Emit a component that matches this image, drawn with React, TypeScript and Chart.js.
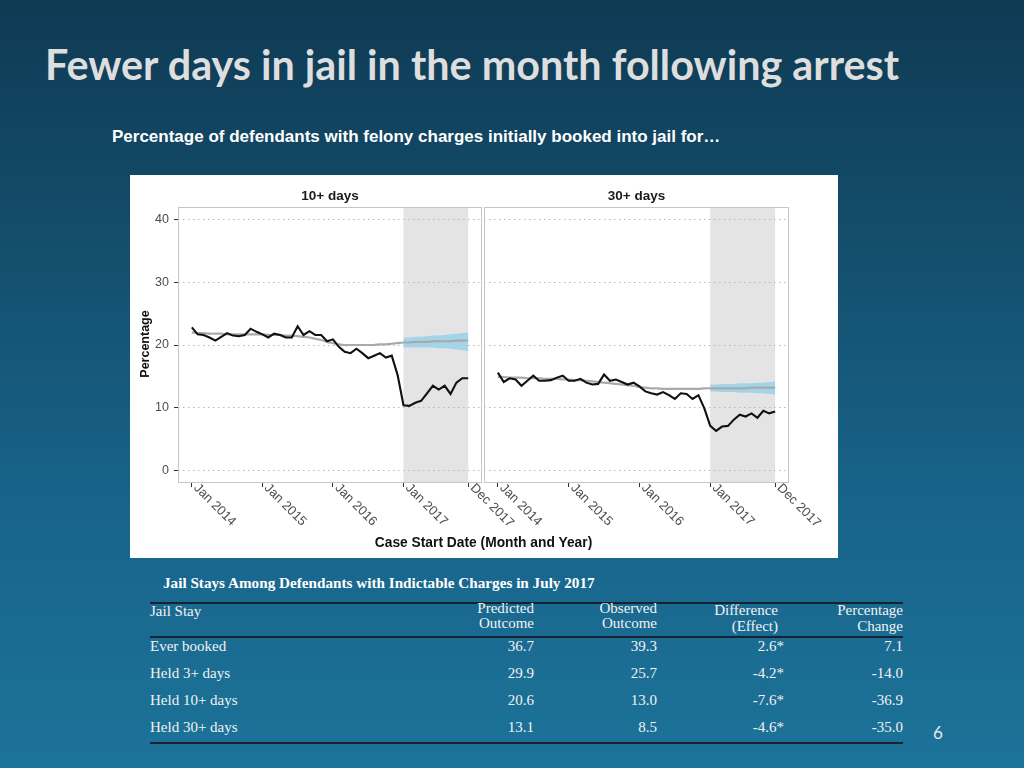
import React, { useEffect, useRef } from 'react';
import { Chart, registerables } from 'chart.js';

Chart.register(...registerables);

// ---------- data ----------
// month index 0 = Jan 2014 ... 47 = Dec 2017
const monthCount = 48;
const xTickValues = [0, 12, 24, 36, 47];
const xTickLabels = ['Jan 2014', 'Jan 2015', 'Jan 2016', 'Jan 2017', 'Dec 2017'];
const yTickValues = [0, 10, 20, 30, 40];
const shadeStart = 36;
const shadeEnd = 47;
const ribbonStart = 36;

const observed10 = [
  22.8, 21.7, 21.6, 21.2, 20.7, 21.3, 21.9, 21.5, 21.4, 21.6, 22.6, 22.1,
  21.7, 21.2, 21.8, 21.6, 21.2, 21.2, 23.0, 21.6, 22.2, 21.6, 21.6, 20.6,
  20.9, 19.7, 18.9, 18.7, 19.4, 18.7, 17.9, 18.3, 18.7, 18.0, 18.3, 15.2,
  10.4, 10.3, 10.8, 11.1, 12.3, 13.5, 12.9, 13.5, 12.2, 14.0, 14.7, 14.7,
];
const trend10 = [
  22.0, 21.9, 21.9, 21.8, 21.8, 21.8, 21.7, 21.7, 21.7, 21.7, 21.7, 21.7,
  21.7, 21.6, 21.6, 21.6, 21.5, 21.5, 21.4, 21.3, 21.2, 21.0, 20.8, 20.5,
  20.3, 20.1, 20.0, 20.0, 20.0, 20.0, 20.0, 20.0, 20.1, 20.1, 20.2, 20.3,
  20.4, 20.4, 20.5, 20.5, 20.5, 20.6, 20.6, 20.6, 20.6, 20.7, 20.7, 20.7,
];
const ribbonUpper10 = [21.2, 21.2, 21.3, 21.3, 21.4, 21.5, 21.5, 21.6, 21.7, 21.8, 21.9, 22.0];
const ribbonLower10 = [19.6, 19.6, 19.6, 19.6, 19.6, 19.6, 19.5, 19.5, 19.4, 19.3, 19.2, 19.0];

const observed30 = [
  15.6, 14.1, 14.7, 14.5, 13.5, 14.3, 15.1, 14.3, 14.3, 14.4, 14.8, 15.1,
  14.3, 14.3, 14.6, 14.0, 13.7, 13.8, 15.3, 14.3, 14.5, 14.1, 13.7, 14.0,
  13.4, 12.6, 12.3, 12.1, 12.5, 12.0, 11.4, 12.3, 12.2, 11.4, 12.0, 9.9,
  7.1, 6.3, 7.0, 7.1, 8.1, 8.9, 8.6, 9.1, 8.4, 9.5, 9.1, 9.4,
];
const trend30 = [
  14.9, 14.9, 14.8, 14.8, 14.8, 14.7, 14.7, 14.7, 14.6, 14.6, 14.6, 14.5,
  14.5, 14.4, 14.4, 14.3, 14.2, 14.1, 14.0, 13.9, 13.8, 13.7, 13.6, 13.5,
  13.3, 13.2, 13.1, 13.1, 13.0, 13.0, 13.0, 13.0, 13.0, 13.0, 13.0, 13.1,
  13.1, 13.1, 13.1, 13.1, 13.1, 13.1, 13.1, 13.2, 13.2, 13.2, 13.2, 13.2,
];
const ribbonUpper30 = [13.7, 13.7, 13.8, 13.8, 13.8, 13.9, 13.9, 13.9, 14.0, 14.0, 14.1, 14.2];
const ribbonLower30 = [12.6, 12.6, 12.5, 12.5, 12.5, 12.4, 12.4, 12.4, 12.3, 12.3, 12.2, 12.1];

const tableRows = ['Ever booked', 'Held 3+ days', 'Held 10+ days', 'Held 30+ days'];
const predicted = ['36.7', '29.9', '20.6', '13.1'];
const observedOut = ['39.3', '25.7', '13.0', '8.5'];
const difference = ['2.6*', '-4.2*', '-7.6*', '-4.6*'];
const pctChange = ['7.1', '-14.0', '-36.9', '-35.0'];

// ---------- chart ----------
const SANS = '"Liberation Sans", Arial, Helvetica, sans-serif';
const SERIF = '"Liberation Serif", "Times New Roman", serif';

function makeDecor(facetTitle: string) {
  return {
    id: 'panelDecor',
    beforeDraw(chart: any) {
      const { ctx, chartArea: a, scales } = chart;
      const x = scales.x;
      const x0 = x.getPixelForValue(shadeStart);
      const x1 = x.getPixelForValue(shadeEnd);
      ctx.save();
      ctx.fillStyle = '#e4e4e4';
      ctx.fillRect(x0, a.top, x1 - x0, a.bottom - a.top);
      ctx.restore();
    },
    afterDatasetsDraw(chart: any) {
      const { ctx, chartArea: a } = chart;
      ctx.save();
      ctx.strokeStyle = '#c6c6c6';
      ctx.lineWidth = 1;
      ctx.strokeRect(a.left + 0.5, a.top + 0.5, a.right - a.left - 1, a.bottom - a.top - 1);
      ctx.restore();
    },
    afterDraw(chart: any) {
      const { ctx, chartArea: a, scales } = chart;
      const x = scales.x;
      ctx.save();
      ctx.fillStyle = '#1a1a1a';
      ctx.font = 'bold 13.5px ' + SANS;
      ctx.textAlign = 'center';
      ctx.textBaseline = 'middle';
      ctx.fillText(facetTitle, (a.left + a.right) / 2, a.top - 11);
      ctx.fillStyle = '#4d4d4d';
      ctx.font = '13px ' + SANS;
      x.ticks.forEach((t: any, i: number) => {
        const px = x.getPixelForValue(t.value);
        ctx.save();
        ctx.translate(px + 4, a.bottom + 3);
        ctx.rotate(Math.PI / 4);
        ctx.textAlign = 'left';
        ctx.textBaseline = 'middle';
        ctx.fillText(xTickLabels[i], 0, 0);
        ctx.restore();
      });
      ctx.restore();
    },
  };
}

function buildConfig(
  facetTitle: string,
  observed: number[],
  trend: number[],
  upper: number[],
  lower: number[],
  showY: boolean,
  padRight: number,
): any {
  const idx = Array.from({ length: monthCount }, (_, i) => i);
  return {
    type: 'line',
    data: {
      datasets: [
        {
          data: idx.map((i) => ({ x: i, y: observed[i] })),
          borderColor: '#111111',
          borderWidth: 2.1,
          pointRadius: 0,
          tension: 0,
          fill: false,
        },
        {
          data: idx.map((i) => ({ x: i, y: trend[i] })),
          borderColor: '#a9a9a9',
          borderWidth: 2.2,
          pointRadius: 0,
          tension: 0.3,
          fill: false,
        },
        {
          data: upper.map((v, i) => ({ x: ribbonStart + i, y: v })),
          borderColor: 'rgba(0,0,0,0)',
          borderWidth: 0,
          backgroundColor: '#a3d4ea',
          pointRadius: 0,
          fill: '+1',
        },
        {
          data: lower.map((v, i) => ({ x: ribbonStart + i, y: v })),
          borderColor: 'rgba(0,0,0,0)',
          borderWidth: 0,
          pointRadius: 0,
          fill: false,
        },
      ],
    },
    options: {
      animation: false,
      responsive: false,
      maintainAspectRatio: false,
      events: [],
      layout: { padding: { top: 32, right: padRight, left: 0, bottom: 0 } },
      plugins: { legend: { display: false }, tooltip: { enabled: false }, title: { display: false } },
      scales: {
        x: {
          type: 'linear',
          min: -2.35,
          max: 49.35,
          afterBuildTicks: (s: any) => {
            s.ticks = xTickValues.map((v) => ({ value: v }));
          },
          afterFit: (s: any) => {
            s.height = 75;
          },
          ticks: { display: false },
          grid: { drawOnChartArea: false, drawTicks: true, tickLength: 4, tickColor: '#333333', tickWidth: 1 },
          border: { display: false },
        },
        y: {
          type: 'linear',
          min: -2,
          max: 42,
          afterBuildTicks: (s: any) => {
            s.ticks = yTickValues.map((v) => ({ value: v }));
          },
          afterFit: (s: any) => {
            s.width = showY ? 48 : 1;
          },
          ticks: {
            display: showY,
            color: '#4d4d4d',
            font: { family: SANS, size: 12.5 },
            padding: 5,
          },
          grid: {
            color: '#b8b8b8',
            lineWidth: 1,
            drawTicks: showY,
            tickLength: 4,
            tickColor: '#333333',
            tickBorderDash: [],
          },
          border: { display: false, dash: [1.5, 3.5] },
        },
      },
    },
    plugins: [makeDecor(facetTitle)],
  };
}

function Panel(props: { left: number; width: number; cfg: () => any }) {
  const ref = useRef<HTMLCanvasElement>(null);
  useEffect(() => {
    if (!ref.current) return;
    const c = new Chart(ref.current, props.cfg());
    return () => c.destroy();
  }, []);
  return (
    <canvas
      ref={ref}
      width={props.width}
      height={383}
      style={{ position: 'absolute', left: props.left, top: 0, width: props.width, height: 383 }}
    />
  );
}

function Txt(props: {
  x: number;
  y: number;
  text: string;
  align?: 'left' | 'right' | 'center';
  size?: number;
  bold?: boolean;
  font?: string;
  color?: string;
}) {
  const size = props.size ?? 15;
  const lh = Math.round(size * 1.3);
  const align = props.align ?? 'left';
  const style: any = {
    position: 'absolute',
    top: props.y - lh / 2,
    lineHeight: lh + 'px',
    fontSize: size,
    fontFamily: props.font ?? SERIF,
    fontWeight: props.bold ? 700 : 400,
    color: props.color ?? '#f2f2f2',
    whiteSpace: 'nowrap',
  };
  if (align === 'left') style.left = props.x;
  else if (align === 'right') style.right = 1024 - props.x;
  else {
    style.left = props.x - 300;
    style.width = 600;
    style.textAlign = 'center';
  }
  return <div style={style}>{props.text}</div>;
}

export default function App() {
  const rowY = [646, 673, 700, 727];
  return (
    <div
      style={{
        position: 'fixed',
        left: 0,
        top: 0,
        width: 1024,
        height: 768,
        overflow: 'hidden',
        background: 'linear-gradient(to bottom, #0f3a54 0%, #134d6a 30%, #18638a 65%, #1c7399 100%)',
      }}
    >
      <div
        style={{
          position: 'absolute',
          left: 45,
          top: 40,
          fontFamily: 'Lato, "Open Sans", sans-serif',
          fontWeight: 700,
          fontSize: 41.3,
          lineHeight: '48px',
          color: '#dedede',
          whiteSpace: 'nowrap',
        }}
      >
        Fewer days in jail in the month following arrest
      </div>
      <div
        style={{
          position: 'absolute',
          left: 112,
          top: 127,
          fontFamily: SANS,
          fontWeight: 700,
          fontSize: 17,
          lineHeight: '20px',
          color: '#ffffff',
          whiteSpace: 'nowrap',
        }}
      >
        Percentage of defendants with felony charges initially booked into jail for…
      </div>

      <div style={{ position: 'absolute', left: 130, top: 175, width: 708, height: 383, background: '#ffffff' }}>
        <Panel
          left={0}
          width={420}
          cfg={() => buildConfig('10+ days', observed10, trend10, ribbonUpper10, ribbonLower10, true, 68)}
        />
        <Panel
          left={353}
          width={355}
          cfg={() => buildConfig('30+ days', observed30, trend30, ribbonUpper30, ribbonLower30, false, 49)}
        />
        <div
          style={{
            position: 'absolute',
            left: 15 - 50,
            top: 169 - 9,
            width: 100,
            height: 18,
            lineHeight: '18px',
            textAlign: 'center',
            transform: 'rotate(-90deg)',
            fontFamily: SANS,
            fontWeight: 700,
            fontSize: 12.5,
            color: '#111',
          }}
        >
          Percentage
        </div>
        <div
          style={{
            position: 'absolute',
            left: 353.5 - 200,
            top: 368 - 9,
            width: 400,
            lineHeight: '18px',
            textAlign: 'center',
            fontFamily: SANS,
            fontWeight: 700,
            fontSize: 13.8,
            color: '#111',
          }}
        >
          Case Start Date (Month and Year)
        </div>
      </div>

      {/* table */}
      <Txt x={163} y={583} text="Jail Stays Among Defendants with Indictable Charges in July 2017" bold size={15.2} color="#ffffff" />
      <div style={{ position: 'absolute', left: 150, top: 602, width: 753, height: 2, background: '#162230' }} />
      <div style={{ position: 'absolute', left: 150, top: 636, width: 753, height: 1.5, background: '#162230' }} />
      <div style={{ position: 'absolute', left: 150, top: 742, width: 753, height: 2, background: '#162230' }} />

      <Txt x={150} y={611} text="Jail Stay" />
      <Txt x={534} y={608} text="Predicted" align="right" />
      <Txt x={534} y={623} text="Outcome" align="right" />
      <Txt x={657} y={608} text="Observed" align="right" />
      <Txt x={657} y={623} text="Outcome" align="right" />
      <Txt x={778} y={610} text="Difference" align="right" />
      <Txt x={778} y={626} text="(Effect)" align="right" />
      <Txt x={903} y={610} text="Percentage" align="right" />
      <Txt x={903} y={626} text="Change" align="right" />

      {tableRows.map((r, i) => (
        <React.Fragment key={r}>
          <Txt x={150} y={rowY[i]} text={r} />
          <Txt x={534} y={rowY[i]} text={predicted[i]} align="right" />
          <Txt x={657} y={rowY[i]} text={observedOut[i]} align="right" />
          <Txt x={784} y={rowY[i]} text={difference[i]} align="right" />
          <Txt x={903} y={rowY[i]} text={pctChange[i]} align="right" />
        </React.Fragment>
      ))}

      <Txt x={938} y={733} text="6" align="center" size={17} font={'Lato, "Open Sans", sans-serif'} color="#e8e8e8" />
    </div>
  );
}
